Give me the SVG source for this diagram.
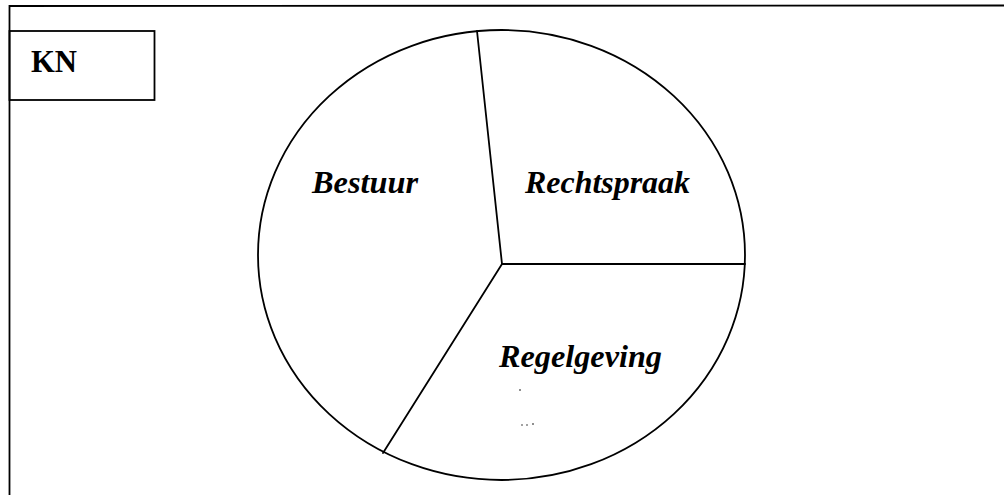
<svg xmlns="http://www.w3.org/2000/svg" width="1004" height="495" viewBox="0 0 1004 495">
<style>
.ln{fill:none;stroke:#000;stroke-width:1.8;stroke-linecap:round}
.lbl{font-family:"Liberation Serif","Times New Roman",serif;font-weight:bold;font-style:italic;font-size:31px;fill:#000}
.kn{font-family:"Liberation Serif","Times New Roman",serif;font-weight:bold;font-size:31px;fill:#000}
.speck{fill:#000}
</style>
<rect width="1004" height="495" fill="#fff"/>
<g id="frame">
<path class="ln" d="M9.5,495 L9.5,6 L1004,5.5"/>
</g>
<g id="kn-box">
<rect class="ln" x="9.5" y="31" width="145" height="69"/>
<text class="kn" x="31" y="72" textLength="46" lengthAdjust="spacingAndGlyphs">KN</text>
</g>
<g id="pie">
<ellipse class="ln" cx="501.5" cy="255" rx="243.5" ry="225"/>
</g>
<g id="connectors">
<line class="ln" x1="477" y1="31" x2="502" y2="264"/>
<line class="ln" x1="502" y1="264" x2="745" y2="264"/>
<line class="ln" x1="502" y1="264" x2="383" y2="453"/>
</g>
<g id="bestuur">
<text class="lbl" x="312" y="193" textLength="106" lengthAdjust="spacingAndGlyphs">Bestuur</text>
</g>
<g id="rechtspraak">
<text class="lbl" x="525" y="193" textLength="165" lengthAdjust="spacingAndGlyphs">Rechtspraak</text>
</g>
<g id="regelgeving">
<text class="lbl" x="499" y="367" textLength="163" lengthAdjust="spacingAndGlyphs">Regelgeving</text>
</g>
<g id="specks">
<circle class="speck" cx="520" cy="390" r="0.8"/>
<circle class="speck" cx="522" cy="425" r="0.7"/>
<circle class="speck" cx="527" cy="425" r="0.7"/>
<circle class="speck" cx="533" cy="424" r="0.8"/>
</g>
</svg>
